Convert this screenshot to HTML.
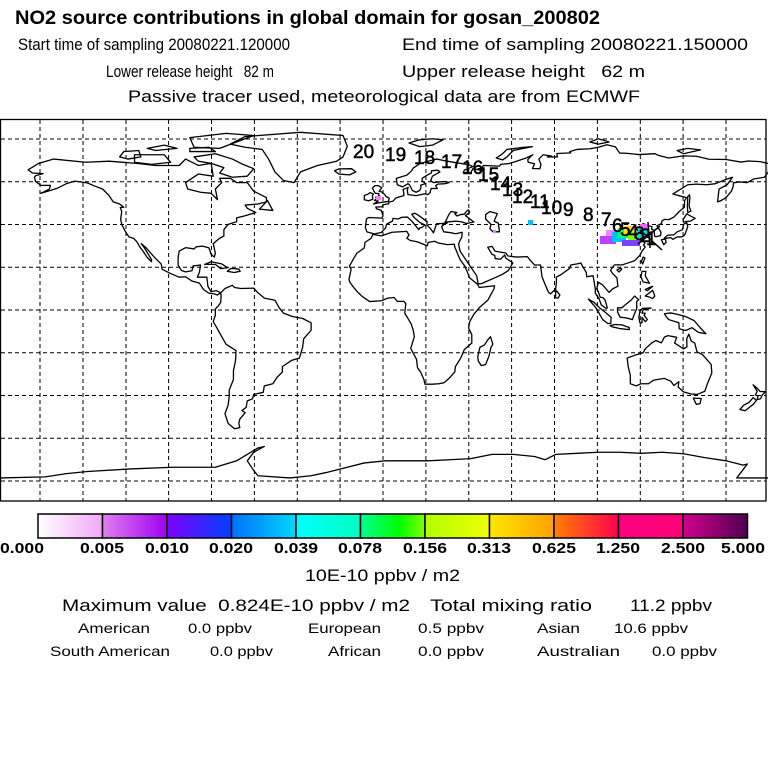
<!DOCTYPE html>
<html><head><meta charset="utf-8"><style>
html,body{margin:0;padding:0;background:#fff;}
svg{display:block;font-family:"Liberation Sans",sans-serif;}
svg text{white-space:pre;}
.c{fill:none;stroke:#000;stroke-width:1.3;stroke-linejoin:round;}
</style></head><body>
<svg width="768" height="768" viewBox="0 0 768 768" xmlns="http://www.w3.org/2000/svg" xml:space="preserve">
<rect width="768" height="768" fill="#fff"/>
<g fill="#000">
<text x="15" y="24" font-size="19" font-weight="bold" textLength="585" lengthAdjust="spacingAndGlyphs">NO2 source contributions in global domain for gosan_200802</text>
<text x="18" y="50" font-size="17" textLength="272" lengthAdjust="spacingAndGlyphs">Start time of sampling 20080221.120000</text>
<text x="402" y="50" font-size="17" textLength="346" lengthAdjust="spacingAndGlyphs">End time of sampling 20080221.150000</text>
<text x="106" y="77" font-size="17" textLength="168" lengthAdjust="spacingAndGlyphs">Lower release height   82 m</text>
<text x="402" y="77" font-size="17" textLength="243" lengthAdjust="spacingAndGlyphs">Upper release height   62 m</text>
<text x="128" y="102" font-size="17" textLength="512" lengthAdjust="spacingAndGlyphs">Passive tracer used, meteorological data are from ECMWF</text>
</g>
<g>
<rect x="0.5" y="119.5" width="765.5" height="381.5" fill="none" stroke="#000" stroke-width="1.3"/>
<g stroke="#000" stroke-width="1" stroke-dasharray="4 3">
<line x1="40" y1="120" x2="40" y2="501"/><line x1="83" y1="120" x2="83" y2="501"/><line x1="126" y1="120" x2="126" y2="501"/><line x1="168.6" y1="120" x2="168.6" y2="501"/><line x1="211.5" y1="120" x2="211.5" y2="501"/><line x1="254.4" y1="120" x2="254.4" y2="501"/><line x1="297.3" y1="120" x2="297.3" y2="501"/><line x1="340.1" y1="120" x2="340.1" y2="501"/><line x1="383" y1="120" x2="383" y2="501"/><line x1="425.9" y1="120" x2="425.9" y2="501"/><line x1="468.8" y1="120" x2="468.8" y2="501"/><line x1="511.6" y1="120" x2="511.6" y2="501"/><line x1="554.5" y1="120" x2="554.5" y2="501"/><line x1="597.4" y1="120" x2="597.4" y2="501"/><line x1="640.3" y1="120" x2="640.3" y2="501"/><line x1="683.1" y1="120" x2="683.1" y2="501"/><line x1="726" y1="120" x2="726" y2="501"/>
<line x1="1" y1="139" x2="766" y2="139"/><line x1="1" y1="181.8" x2="766" y2="181.8"/><line x1="1" y1="224.5" x2="766" y2="224.5"/><line x1="1" y1="267.3" x2="766" y2="267.3"/><line x1="1" y1="310" x2="766" y2="310"/><line x1="1" y1="352.8" x2="766" y2="352.8"/><line x1="1" y1="395.5" x2="766" y2="395.5"/><line x1="1" y1="438.3" x2="766" y2="438.3"/><line x1="1" y1="481" x2="766" y2="481"/>
</g>
<g transform="translate(385.6,311) scale(2.128,-2.14)">
<g class="c">
<polygon vector-effect="non-scaling-stroke" points="-168,66 -163,69 -156,71 -141,69.5 -130,70 -117,69 -108,68 -97,68 -94,71 -88,68 -82,69 -81,63 -88,64 -94,60 -93,57 -87,55.5 -82,55 -79,52 -80,57 -77,60 -78,62 -73,62 -70,60 -65,60 -62,56 -56,53 -56,51 -60,50 -66,49.5 -65,48 -61,46 -66,44.5 -70,43.5 -70,41.7 -74,40.5 -76,38 -76,35 -78,34 -81,31.5 -80,27 -80.5,25.2 -82,26.5 -83,29.5 -86,30.3 -89,30 -90,29 -94,29.6 -97,28 -97.5,25 -97.5,21.5 -96,19 -94,18.3 -91,18.8 -90.5,21 -87,21.5 -87.5,18 -88.5,15.8 -84,15.8 -83.5,11.5 -82,9 -79.5,9.5 -77.5,8.5 -79,7.5 -80.5,8 -83,8.3 -85.5,10 -87.5,13 -91,14 -94,16 -97,15.8 -101,17.5 -105,19.5 -105.5,22 -109,25.5 -112.5,29.5 -114.8,31.5 -113,29 -110,24 -110,23 -112,25 -114,28 -115.5,30 -117,32.5 -118.5,34 -120.6,34.6 -122.5,37.5 -124,40.5 -124.5,43 -124,46.5 -124.7,48.4 -123,48.5 -125,50 -128,51 -130,54 -133,57 -137,58.5 -140,59.8 -146,60.7 -150,59.5 -154,57.5 -157,56.5 -162,55 -158,57 -157.5,58.7 -162,58.7 -164.5,60.5 -165,62.5 -164.5,63.2 -161,64.2 -166,64.5"/>
<polygon vector-effect="non-scaling-stroke" points="-73,78 -66,81.5 -40,83.5 -20,82 -18,77 -20,72 -23,70 -32,68 -40,65 -43,60 -48,61 -52,65 -54,69 -55,71 -58,75.5 -66,76.5"/>
<polygon vector-effect="non-scaling-stroke" points="-90,72 -80,73.5 -72,71 -67,68.5 -62,66.5 -65,63 -72,62.5 -78,64.5 -76,67 -82,69 -88,70"/>
<polygon vector-effect="non-scaling-stroke" points="-118,73 -104,73 -101,69.5 -110,68.5 -118,69.5"/>
<polygon vector-effect="non-scaling-stroke" points="-90,76.5 -78,76 -62,82 -75,83 -92,81"/>
<polygon vector-effect="non-scaling-stroke" points="-125,72 -123,74.5 -116,75 -115,72 -121,71"/>
<polygon vector-effect="non-scaling-stroke" points="-92,74.5 -80,74.5 -83,76.5 -92,76"/>
<polygon vector-effect="non-scaling-stroke" points="-112,76 -104,77.5 -98,76 -108,75"/>
<polygon vector-effect="non-scaling-stroke" points="-77.5,8.5 -75.5,10.5 -72,12 -71,11 -68,10.5 -62,10.7 -60,8.5 -57,6 -52,5 -50,1.5 -48,-1 -44,-2.5 -39,-3.5 -35,-5.5 -35,-9 -38.5,-13 -39,-17 -40.5,-22 -44,-23 -48.5,-26 -48.5,-28.5 -51,-31 -53,-34 -57,-35 -57.5,-38 -62,-39 -62.5,-41 -65,-42 -65.5,-45 -67.5,-46.5 -66,-47.5 -68.5,-50.5 -69,-52.5 -68.5,-54.5 -71,-55 -74,-52.5 -75.5,-48 -74,-44 -73.5,-40 -73.5,-37 -71.5,-32 -71.5,-28 -70.5,-23 -70.3,-18.5 -75,-15.5 -77,-12 -79.5,-7.5 -81,-5 -80,-2 -80,1 -78.5,2.5 -77.5,4 -77.3,7"/>
<polygon vector-effect="non-scaling-stroke" points="-6,35.8 -2,35.1 3,36.8 10,37.2 11,35.5 10,34 11.5,33 15,32.3 19.5,30.5 20,32 23,32.6 25,31.7 29,31 32.3,31.2 32.5,29.9 35,24 37.2,21 38.5,18 39.5,15.5 43.2,12.5 44,11 51.2,11.8 51,10.5 48,5 44,1.5 41.5,-1.5 39.5,-5 39,-8 40.5,-11 40.5,-15 37,-18 35.3,-22 32.8,-26 32.5,-28.5 30,-31.3 27.5,-33.5 25,-34 22,-34.2 18.5,-34.2 18,-32 16.5,-28.6 15,-26.5 14.5,-22.5 11.8,-17.5 13.5,-12 13,-9 12,-6 9,-1 9.5,3.5 8.5,4.5 5.5,4.5 4,6.3 1,6 -2,4.8 -7.5,4.4 -11,6.8 -13.3,9 -15,11 -16.8,13.5 -17.2,14.7 -16.2,19.5 -17,21 -15,24.5 -13.5,27 -10,29.5 -9.7,32 -6.8,34"/>
<polygon vector-effect="non-scaling-stroke" points="49.3,-12 50.4,-15.5 49.5,-17 48.6,-21 47,-25 45,-25.5 43.6,-23.5 43.3,-21.5 44.3,-17 46.5,-15.8 48,-13.5"/>
<polygon vector-effect="non-scaling-stroke" points="-9,43 -9.5,39 -8.8,37 -6,36.2 -5.5,36 -2,36.7 0,38.8 0.5,40.6 3.2,42 3.5,43.3 6,43 7.6,43.8 10.3,43.9 12.5,41.8 15.6,38 16,38.8 17,39 18.5,40.2 16,41.4 13.5,43.6 12.3,45.2 13.7,45.7 15,45 19.5,41.8 19.4,40.2 21,38.6 22.5,36.5 23,38 24,40.8 26.3,40.9 29,41.2 27.5,40.4 26.3,39.5 27.3,37 30.5,36.6 33,36.1 36,36.8 35.8,34.5 35,33 34.3,31.3 35,28 39,22 42.8,16.5 43.5,12.7 45,12.8 52,15.8 55,17.2 57.7,18.9 59.8,22.5 56.4,24.8 56,26.2 54,24.2 51.5,24.5 51.3,26 50,26.5 48,29.8 50,30.2 51.5,27.9 56.5,27.1 57.5,25.7 61.5,25.2 66.6,25.4 68,23.7 70,21.5 72.8,21.5 73.5,16 74.8,12.8 76.5,8.8 77.5,8 79.9,10.3 80.3,13.5 80.2,15.8 82.4,17 86.5,19.9 87,21.5 90,22 91.8,22.4 92.5,21 94.3,18 94.5,16 97.5,16.5 98,13.5 98.6,10 98.5,8.3 100.3,5.8 101.3,2.9 103.5,1.3 104.2,1.4 103.2,5 102.2,6.2 100.8,6.5 99.9,9.2 99.2,10.4 100,13.4 102,12.2 105,8.7 106.8,10.4 109.2,11.6 108.7,15.5 106.7,17.5 105.7,19 107.5,21.5 109.5,21.6 111,21.5 113.8,22.4 117,23.5 119.5,26 120.5,28 122,29.9 121.2,30.8 121.9,31.7 120.5,33.5 119.2,35 120.5,36.2 122.5,37.2 120.8,37.8 119,37.2 118,38.2 117.6,39 118.8,39.1 121,40.8 122.2,40.4 121.3,39 123.5,39.8 125.2,39.5 125,38.2 126.2,37.7 126.4,35 127,34.7 129.2,35.2 129.4,36.8 128.3,38.6 127.5,39.8 129.7,40.9 129.8,42 131,42.8 133.1,42.7 135.5,43.9 138,46.5 140.4,48.5 140.5,51.5 141.4,53 137.5,54 135,54.7 138,56.5 142,59 146,59.3 151,59 155,59.5 160,61.5 163,62.5 160.5,59 156.7,57 156,51 157.5,51.5 160,53 162.5,56 163.3,58 163.5,59.9 166,60.3 170,60 173,61.7 178,62.5 179.9,65 180,68.9 176,69.8 170.5,70.1 167,69.6 160,70.8 152,70.9 146,72.3 140,72.5 133,71.5 128,72.8 126.5,73.5 119,73.1 113,73.7 110,73.8 108,76.7 104,77.7 100,76.5 96,75.8 90,75.5 86.5,74.5 87,73.9 80.5,73.6 80.7,72 76,72 78,72.4 75.5,72.8 74,73 72,71 73,68.5 72.5,66.5 69,66.6 70,68.8 67,69.5 66.8,70.7 68.5,72.5 69.2,73 66,71.5 61,69.8 58,68.9 54,68.5 53.5,67.7 46,68 45,66.6 43.5,66.5 44.2,65.9 41,66.5 40,64.5 36.5,64.7 37,65.8 41,67.5 39,68.4 33,69.3 29,70 24,71 20,70 16,68.8 13,66.8 12.2,65.5 10,63.5 5,62 5.5,59 8,58 10.5,59.5 11.3,58.8 12.6,56.3 14.3,55.5 16,56.3 16.6,57.5 16.5,58.8 18.8,59.5 17.2,60.8 17.2,62 19.5,63.5 21.5,64.5 21.6,65.5 24.5,65.8 25.5,65 22,63 21.2,61 22.5,60 25,60.3 28,60.5 29.8,60 28,59.5 24.5,59.3 23.5,58.5 24.3,57.2 21.5,57.3 21,56 21,55.3 19.8,54.4 18.5,54.8 14.3,53.9 12,54.2 10.5,54.4 10.2,56.5 10.6,57.7 8.2,56.8 8.5,55.5 8.6,53.9 7,53.5 4.8,52.8 3.6,51.4 1.6,50.9 1.4,50.1 -1.3,49.6 -1.6,48.7 -4.6,48.6 -4.3,47.8 -2,47 -1.2,44.5 -1.8,43.4 -4,43.5 -8,43.7"/>
<polygon vector-effect="non-scaling-stroke" points="47,45 49,46.5 52.5,45.5 51,42 53,41 53.5,37 50.5,37 49,38.5 49.5,40.5 47,43"/>
<polygon vector-effect="non-scaling-stroke" points="28,41.5 29.8,45.2 30.8,46.5 33.5,46 32.5,45.4 33.6,44.4 35,45 37,45.3 38.3,46.9 39,47.2 39.5,46 37.5,44.6 41.5,41.6 38,40.9 35.5,41.7 33,42"/>
<polygon vector-effect="non-scaling-stroke" points="-5.7,50 -3,50.6 1.3,51.2 1.7,52.7 0.2,53.5 -0.5,54.5 -1.8,55.6 -3,56 -1.8,57.6 -3.5,58.6 -5,58.6 -6.2,57.5 -5.5,56 -4.8,55 -3.1,54.9 -3.4,54.3 -2.9,53.8 -3.1,53.3 -4.6,53.2 -4.2,52.3 -5.2,51.7 -3.4,51.4"/>
<polygon vector-effect="non-scaling-stroke" points="-6,52.2 -6.2,53.9 -5.7,54.7 -7.3,55.3 -8.5,54.5 -10,54 -10,52 -8,51.5"/>
<polygon vector-effect="non-scaling-stroke" points="-22,64 -24,65.5 -22,66.4 -16,66.5 -14,65 -17,63.6"/>
<polygon vector-effect="non-scaling-stroke" points="11,78.5 16,80 22,80.5 27,80 22,77.5 16,76.8"/>
<polygon vector-effect="non-scaling-stroke" points="52,71.5 55,73.5 57,75.5 65,76.5 69,76.8 60,75 57,72 55,70.6"/>
<polygon vector-effect="non-scaling-stroke" points="96,79 100,80.5 105,79 100,78"/>
<polygon vector-effect="non-scaling-stroke" points="137,75 142,76 148,75.3 140,73.5"/>
<polygon vector-effect="non-scaling-stroke" points="130.9,34 132.5,35.4 135.5,35.6 137,37 139.5,38 140,40.5 141.5,41.3 142,39.5 140.8,36 140,35 138.8,34.6 137,34.6 135,33.5 134,34.3 131,33.9"/>
<polygon vector-effect="non-scaling-stroke" points="129.6,33.3 130.7,31 131.8,32 131.5,33.6"/>
<polygon vector-effect="non-scaling-stroke" points="140,41.5 139.8,42.7 141.5,45.4 143.7,44.2 145.5,43.3 143.3,42 141,41.8"/>
<polygon vector-effect="non-scaling-stroke" points="142,46 143.5,46.7 142.6,49 143,53 142.8,54.3 142,53.5 141.8,49"/>
<polygon vector-effect="non-scaling-stroke" points="120.2,23 121,25.2 121.9,24.8 120.8,22"/>
<polygon vector-effect="non-scaling-stroke" points="108.7,19.2 110.5,20.1 111,19.6 109.7,18.2"/>
<polygon vector-effect="non-scaling-stroke" points="120,16 120.5,18.5 122.3,18.5 122,16.5 124,13 121,13.6 120.6,14.5"/>
<polygon vector-effect="non-scaling-stroke" points="122,7 124,8.5 125.5,9.7 126.5,7 125.5,5.8 124,6.5"/>
<polygon vector-effect="non-scaling-stroke" points="122,10 124,11 125.5,11.5 123,9.5"/>
<polygon vector-effect="non-scaling-stroke" points="109,1.5 111,1.5 113,3.2 115.5,5.2 117,7 119,5.2 118,4.5 118,1 117.5,0 116.5,-2.5 116,-4 113,-3.2 110.2,-2.9 109,-0.5"/>
<polygon vector-effect="non-scaling-stroke" points="95.3,5.6 98,4 100.5,1.5 103.7,-1 106,-3 105.8,-5.8 104.5,-5.9 102,-4 100.3,-1 98.6,1.8"/>
<polygon vector-effect="non-scaling-stroke" points="105.5,-6.8 108,-6.3 111,-6.5 114.5,-7.7 114.5,-8.7 110,-8.2 106.5,-7.4"/>
<polygon vector-effect="non-scaling-stroke" points="119.5,-5.5 119,-3 119.5,0 120.8,1.3 124.8,1.4 121,0.5 120.5,-1 122,-1 121.5,-2 123,-4 122,-5 120.5,-3 120.5,-5.5"/>
<polygon vector-effect="non-scaling-stroke" points="131,-1.3 134,-0.9 137,-1.5 141,-2.6 145,-4.5 148,-8 150.5,-10.6 147,-10 144,-7.8 141,-9.1 138,-8.3 137.8,-5.5 133,-4 132,-2.8"/>
<polygon vector-effect="non-scaling-stroke" points="113.5,-22 114,-26 115,-30 115,-34 117.8,-35 120,-34 123.5,-34 126,-32.3 131,-31.5 134,-32.8 135.5,-34.8 137.8,-33 137.5,-35.5 140,-37.8 143.5,-38.8 146.5,-39 150,-37.5 151.3,-33.8 153.3,-29 153,-25 150.8,-22.5 149,-20.5 146.3,-19 145.3,-15 143.6,-14 142.5,-10.8 141.5,-13 141.6,-16.8 140,-17.7 137.8,-16.2 135.8,-15 136.8,-12.3 132.7,-11.5 131,-12.2 129.6,-14.9 127,-13.8 125,-15 122.2,-17.5 121,-19.5 117,-20.7"/>
<polygon vector-effect="non-scaling-stroke" points="144.6,-40.7 148.3,-40.9 147.8,-43.3 146,-43.6"/>
<polygon vector-effect="non-scaling-stroke" points="172.7,-34.5 174.5,-36 176,-37.6 178.5,-37.7 177,-39.3 176.2,-41 174.6,-41.4 175,-39.8 173.8,-39.2 174.6,-37.5"/>
<polygon vector-effect="non-scaling-stroke" points="172.7,-40.5 174.3,-41.7 172.8,-43.6 171,-45 169,-46.6 166.5,-46 168.3,-44 170.8,-42.7"/>
<polygon vector-effect="non-scaling-stroke" points="79.8,6.2 80,9.8 81.9,7.5 81,6"/>
<polygon vector-effect="non-scaling-stroke" points="-85,21.8 -82,23 -77,22 -74.2,20.2 -77.5,19.8 -80,21.8"/>
<polygon vector-effect="non-scaling-stroke" points="-74.4,18.5 -72.7,19.9 -69,19.6 -68.3,18.6 -71,18"/>
<polygon vector-effect="non-scaling-stroke" points="-59.3,47.6 -55.5,51.6 -53,47"/>
<polyline vector-effect="non-scaling-stroke" points="-181,-78 -160,-77.5 -150,-76 -140,-75 -120,-73.8 -100,-73 -80,-73 -70,-70 -60,-64 -57,-63.3 -62,-66 -65,-70 -62,-74.5 -60,-77 -45,-78 -35,-77 -28,-75.5 -18,-73 -10,-71 0,-70 10,-70 20,-70 30,-69.5 40,-69 50,-67 60,-67 70,-68 75,-69.5 80,-67 90,-66.5 100,-66 110,-66 120,-66.5 130,-66 140,-66.7 150,-68.5 160,-70 168,-72 170,-71.5 165,-78 180,-78"/>
</g>
</g>
<g>
<rect x="600" y="236" width="16" height="8" fill="#c040ff"/>
<rect x="606" y="230" width="10" height="6" fill="#ff80ff"/>
<rect x="612" y="232" width="14" height="10" fill="#00c0ff"/>
<rect x="618" y="228" width="14" height="10" fill="#00ff80"/>
<rect x="624" y="226" width="10" height="8" fill="#ffe000"/>
<rect x="628" y="232" width="10" height="8" fill="#80ff00"/>
<rect x="622" y="240" width="18" height="6" fill="#8040ff"/>
<rect x="638" y="228" width="10" height="10" fill="#00e0e0"/>
<rect x="640" y="224" width="8" height="4" fill="#ff60ff"/>
<rect x="528" y="220" width="5" height="5" fill="#00c0ff"/>
<rect x="376" y="196" width="5" height="4" fill="#ff80ff"/>
<rect x="493" y="230" width="3" height="3" fill="#e080ff"/>
<path d="M640 230 L662 250 M648 222 L650 248 M638 244 L660 226" stroke="#000" stroke-width="1.5"/>
</g>
<g font-size="19" fill="#000" stroke="#000" stroke-width="0.5">
<text x="353" y="158">20</text><text x="385" y="161">19</text><text x="414" y="164">18</text><text x="441" y="168">17</text><text x="462" y="174">16</text><text x="478" y="181">15</text><text x="490" y="190">14</text><text x="502" y="196">13</text><text x="512" y="203">12</text><text x="530" y="208">11</text><text x="541" y="214">10</text><text x="563" y="216">9</text><text x="583" y="221">8</text><text x="601" y="226">7</text><text x="612" y="232">6</text><text x="620" y="236">5</text><text x="628" y="238">4</text><text x="634" y="240">3</text><text x="640" y="242">2</text><text x="646" y="245">1</text>
</g>
</g>
<defs>
<linearGradient id="g1"><stop offset="0" stop-color="#ffffff"/><stop offset="1" stop-color="#f0a8f8"/></linearGradient>
<linearGradient id="g2"><stop offset="0" stop-color="#e080f0"/><stop offset="1" stop-color="#a000f0"/></linearGradient>
<linearGradient id="g3"><stop offset="0" stop-color="#8000ff"/><stop offset="1" stop-color="#0040ff"/></linearGradient>
<linearGradient id="g4"><stop offset="0" stop-color="#0070ff"/><stop offset="1" stop-color="#00d8ff"/></linearGradient>
<linearGradient id="g5"><stop offset="0" stop-color="#00ffff"/><stop offset="1" stop-color="#00ffc0"/></linearGradient>
<linearGradient id="g6"><stop offset="0" stop-color="#00ff90"/><stop offset="0.6" stop-color="#00ff00"/><stop offset="1" stop-color="#80ff00"/></linearGradient>
<linearGradient id="g7"><stop offset="0" stop-color="#b0ff00"/><stop offset="1" stop-color="#f0ff00"/></linearGradient>
<linearGradient id="g8"><stop offset="0" stop-color="#ffe800"/><stop offset="1" stop-color="#ffa000"/></linearGradient>
<linearGradient id="g9"><stop offset="0" stop-color="#ff8000"/><stop offset="1" stop-color="#ff0050"/></linearGradient>
<linearGradient id="g10"><stop offset="0" stop-color="#ff0080"/><stop offset="1" stop-color="#ff0078"/></linearGradient>
<linearGradient id="g11"><stop offset="0" stop-color="#d00090"/><stop offset="1" stop-color="#500050"/></linearGradient>
</defs>
<g stroke="#000" stroke-width="1.5">
<rect x="38" y="514" width="64.5" height="24" fill="url(#g1)"/>
<rect x="102.5" y="514" width="64.5" height="24" fill="url(#g2)"/>
<rect x="167" y="514" width="64.5" height="24" fill="url(#g3)"/>
<rect x="231.5" y="514" width="64.5" height="24" fill="url(#g4)"/>
<rect x="296" y="514" width="64.5" height="24" fill="url(#g5)"/>
<rect x="360.5" y="514" width="64.5" height="24" fill="url(#g6)"/>
<rect x="425" y="514" width="64.5" height="24" fill="url(#g7)"/>
<rect x="489.5" y="514" width="64.5" height="24" fill="url(#g8)"/>
<rect x="554" y="514" width="64.5" height="24" fill="url(#g9)"/>
<rect x="618.5" y="514" width="64.5" height="24" fill="url(#g10)"/>
<rect x="683" y="514" width="64.5" height="24" fill="url(#g11)"/>
</g>
<g font-size="15" font-weight="bold" fill="#000" text-anchor="middle">
<text x="22" y="553" textLength="44" lengthAdjust="spacingAndGlyphs">0.000</text>
<text x="102" y="553" textLength="44" lengthAdjust="spacingAndGlyphs">0.005</text>
<text x="167" y="553" textLength="44" lengthAdjust="spacingAndGlyphs">0.010</text>
<text x="231" y="553" textLength="44" lengthAdjust="spacingAndGlyphs">0.020</text>
<text x="296" y="553" textLength="44" lengthAdjust="spacingAndGlyphs">0.039</text>
<text x="360" y="553" textLength="44" lengthAdjust="spacingAndGlyphs">0.078</text>
<text x="425" y="553" textLength="44" lengthAdjust="spacingAndGlyphs">0.156</text>
<text x="489" y="553" textLength="44" lengthAdjust="spacingAndGlyphs">0.313</text>
<text x="554" y="553" textLength="44" lengthAdjust="spacingAndGlyphs">0.625</text>
<text x="618" y="553" textLength="44" lengthAdjust="spacingAndGlyphs">1.250</text>
<text x="683" y="553" textLength="44" lengthAdjust="spacingAndGlyphs">2.500</text>
<text x="743" y="553" textLength="44" lengthAdjust="spacingAndGlyphs">5.000</text>
</g>
<g fill="#000">
<text x="305" y="581" font-size="17" textLength="155" lengthAdjust="spacingAndGlyphs">10E-10 ppbv / m2</text>
<text x="62" y="611" font-size="17" textLength="348" lengthAdjust="spacingAndGlyphs">Maximum value  0.824E-10 ppbv / m2</text>
<text x="430" y="611" font-size="17" textLength="162" lengthAdjust="spacingAndGlyphs">Total mixing ratio</text>
<text x="630" y="611" font-size="17" textLength="82" lengthAdjust="spacingAndGlyphs">11.2 ppbv</text>
<g font-size="14">
<text x="78" y="633" textLength="72" lengthAdjust="spacingAndGlyphs">American</text>
<text x="188" y="633" textLength="64" lengthAdjust="spacingAndGlyphs">0.0 ppbv</text>
<text x="308" y="633" textLength="73" lengthAdjust="spacingAndGlyphs">European</text>
<text x="418" y="633" textLength="66" lengthAdjust="spacingAndGlyphs">0.5 ppbv</text>
<text x="537" y="633" textLength="43" lengthAdjust="spacingAndGlyphs">Asian</text>
<text x="614" y="633" textLength="74" lengthAdjust="spacingAndGlyphs">10.6 ppbv</text>
<text x="50" y="656" textLength="120" lengthAdjust="spacingAndGlyphs">South American</text>
<text x="210" y="656" textLength="63" lengthAdjust="spacingAndGlyphs">0.0 ppbv</text>
<text x="328" y="656" textLength="53" lengthAdjust="spacingAndGlyphs">African</text>
<text x="418" y="656" textLength="66" lengthAdjust="spacingAndGlyphs">0.0 ppbv</text>
<text x="537" y="656" textLength="83" lengthAdjust="spacingAndGlyphs">Australian</text>
<text x="652" y="656" textLength="65" lengthAdjust="spacingAndGlyphs">0.0 ppbv</text>
</g>
</g>
</svg>
</body></html>
